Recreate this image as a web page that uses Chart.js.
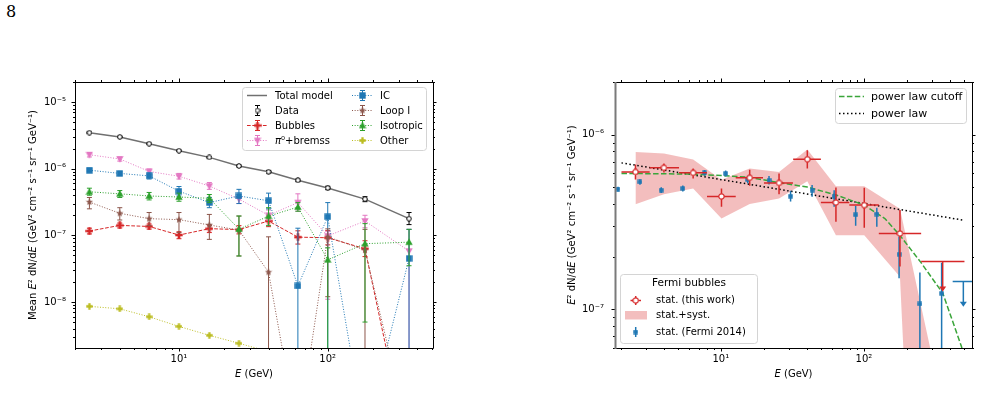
<!DOCTYPE html>
<html>
<head>
<meta charset="utf-8">
<script src="https://cdn.jsdelivr.net/npm/chart.js@4.4.1/dist/chart.umd.min.js"></script>
<style>
body { margin: 0; background: #fff; width: 981px; height: 405px; overflow: hidden; position: relative; }
#page { position: absolute; left: 6px; top: 2px; font-family: 'DejaVu Serif', 'Liberation Serif', serif; font-size: 16px; color: #000; }
#c1 { position: absolute; left: 0; top: 0; }
#c2 { position: absolute; left: 490px; top: 0; }
</style>
</head>
<body>
<div id="page">8</div>
<canvas id="c1" width="490" height="405"></canvas>
<canvas id="c2" width="491" height="405"></canvas>
<script>
// ---- left panel: template fit components (GeV, mean E^2 dN/dE) ----
const E_BINS = [2.5, 4.0, 6.3, 10, 16, 25.3, 40, 63, 100, 178, 352];
const TOTAL = [3.47e-6, 3.0e-6, 2.37e-6, 1.86e-6, 1.48e-6, 1.1e-6, 9.0e-7, 6.7e-7, 5.15e-7, 3.5e-7, 1.78e-7];
const DATA_LO = [3.38e-6, 2.93e-6, 2.31e-6, 1.81e-6, 1.44e-6, 1.06e-6, 8.6e-7, 6.4e-7, 4.85e-7, 3.2e-7, 1.45e-7];
const DATA_HI = [3.56e-6, 3.07e-6, 2.43e-6, 1.91e-6, 1.52e-6, 1.14e-6, 9.4e-7, 7.0e-7, 5.45e-7, 3.8e-7, 2.2e-7];
const BUB = [1.16e-7, 1.41e-7, 1.36e-7, 1.01e-7, 1.26e-7, 1.22e-7, 1.64e-7, 9.4e-8, 9.2e-8, 6.3e-8, 5e-11];
const BUB_LO = [1.05e-7, 1.29e-7, 1.24e-7, 8.9e-8, 1.1e-7, 1.05e-7, 1.35e-7, 7.4e-8, 7.2e-8, 4.8e-8, 1e-12];
const BUB_HI = [1.28e-7, 1.53e-7, 1.48e-7, 1.13e-7, 1.42e-7, 1.4e-7, 1.95e-7, 1.17e-7, 1.18e-7, 8.3e-8, 1e-12];
const PI0 = [1.62e-6, 1.4e-6, 9.1e-7, 7.7e-7, 5.5e-7, 3.5e-7, 2.0e-7, 3.1e-7, 9.8e-8, 1.64e-7, 5.8e-8];
const PI0_LO = [1.5e-6, 1.3e-6, 8.3e-7, 7.0e-7, 4.9e-7, 3.0e-7, 1.7e-7, 2.3e-7, 1.1e-8, 1.3e-7, 1e-12];
const PI0_HI = [1.75e-6, 1.5e-6, 9.9e-7, 8.5e-7, 6.2e-7, 4.1e-7, 2.4e-7, 4.2e-7, 1.15e-7, 2.0e-7, 1.23e-7];
const IC = [9.5e-7, 8.5e-7, 7.8e-7, 4.6e-7, 3.1e-7, 3.9e-7, 3.3e-7, 1.74e-8, 1.9e-7, 1e-10, 4.5e-8];
const IC_LO = [8.9e-7, 8.0e-7, 7.0e-7, 3.9e-7, 2.6e-7, 3.0e-7, 2.5e-7, 1e-12, 1e-12, 1e-12, 1e-12];
const IC_HI = [1.02e-6, 9.0e-7, 8.6e-7, 5.4e-7, 3.7e-7, 4.9e-7, 4.3e-7, 1.28e-7, 3.1e-7, 1e-12, 1.23e-7];
const LOOP = [3.16e-7, 2.14e-7, 1.78e-7, 1.72e-7, 1.43e-7, 1.2e-7, 2.8e-8, 1e-10, 9.5e-8, 6.0e-8, 1e-10];
const LOOP_LO = [2.5e-7, 1.7e-7, 1.4e-7, 1.1e-7, 8.7e-8, 4.9e-8, 1e-12, 1e-12, 1.2e-8, 1e-12, 1e-12];
const LOOP_HI = [3.7e-7, 2.6e-7, 2.2e-7, 2.2e-7, 2.06e-7, 1.95e-7, 9.5e-8, 1e-12, 1.25e-7, 1.23e-7, 1e-12];
const ISO = [4.5e-7, 4.2e-7, 3.9e-7, 3.76e-7, 3.6e-7, 1.24e-7, 1.94e-7, 2.66e-7, 4.3e-8, 7.5e-8, 7.9e-8];
const ISO_LO = [4.0e-7, 3.7e-7, 3.4e-7, 3.25e-7, 3.1e-7, 4.9e-8, 1.4e-7, 2.3e-7, 1e-12, 5e-9, 3.5e-8];
const ISO_HI = [5.1e-7, 4.7e-7, 4.4e-7, 4.3e-7, 4.1e-7, 1.95e-7, 2.6e-7, 3.1e-7, 6.5e-8, 1.5e-7, 1.23e-7];
const OTHER = [8.6e-9, 7.9e-9, 6.0e-9, 4.3e-9, 3.16e-9, 2.4e-9, 1.8e-9, 1.3e-9, 1.0e-9, 7e-10, 4e-10];
const X_TICKS_L = [10, 100];
const Y_TICKS_L = [1e-8, 1e-7, 1e-6, 1e-5];

// ---- right panel: Fermi bubbles spectrum ----
const E_THIS = [2.53, 4.0, 6.4, 10.1, 15.9, 25.5, 40.2, 63.7, 100.5, 178.5];
const E_THIS_LO = [2.02, 3.18, 5.1, 8.0, 12.7, 20.0, 32.0, 50.0, 79.0, 127];
const E_THIS_HI = [3.18, 5.1, 8.0, 12.7, 19.7, 31.9, 50.0, 79.0, 127, 251];
const F_THIS = [6.1e-7, 6.45e-7, 6.03e-7, 4.42e-7, 5.65e-7, 5.28e-7, 7.22e-7, 4.08e-7, 3.94e-7, 2.71e-7];
const F_THIS_LO = [5.52e-7, 6.05e-7, 5.6e-7, 3.86e-7, 5.08e-7, 4.55e-7, 6.38e-7, 3.16e-7, 2.92e-7, 1.75e-7];
const F_THIS_HI = [6.74e-7, 6.82e-7, 6.38e-7, 4.9e-7, 6.28e-7, 5.98e-7, 8.13e-7, 4.97e-7, 4.95e-7, 3.69e-7];
const E_BAND = [2.53, 4.0, 6.4, 10.1, 15.9, 25.5, 40.2, 63.7, 100.5, 178.5, 355];
const BAND_HI = [7.95e-7, 7.78e-7, 7.2e-7, 5.5e-7, 6.38e-7, 6.1e-7, 8.2e-7, 5.06e-7, 5.06e-7, 3.76e-7, 2.8e-8];
const BAND_LO = [3.98e-7, 4.55e-7, 4.91e-7, 3.3e-7, 4.0e-7, 4.3e-7, 5.4e-7, 2.65e-7, 2.65e-7, 1.53e-7, 1e-12];
const E_FERMI = [1.91, 2.72, 3.83, 5.42, 7.69, 10.8, 15.4, 21.7, 30.7, 43.4, 61.9, 87.5, 123, 176, 246, 349];
const F_FERMI = [4.87e-7, 5.35e-7, 4.8e-7, 4.91e-7, 6.03e-7, 5.98e-7, 5.52e-7, 5.47e-7, 4.43e-7, 4.8e-7, 4.43e-7, 3.47e-7, 3.5e-7, 2.06e-7, 1.07e-7, 1.23e-7];
const F_FERMI_LO = [4.72e-7, 5.15e-7, 4.62e-7, 4.72e-7, 5.8e-7, 5.75e-7, 5.25e-7, 5.17e-7, 4.13e-7, 4.4e-7, 3.86e-7, 3.0e-7, 2.96e-7, 1.5e-7, 1e-12, 1e-12];
const F_FERMI_HI = [5.02e-7, 5.55e-7, 4.98e-7, 5.1e-7, 6.26e-7, 6.22e-7, 5.8e-7, 5.78e-7, 4.76e-7, 5.13e-7, 4.8e-7, 3.9e-7, 3.8e-7, 2.6e-7, 1.62e-7, 1.84e-7];
// upper limits: [this work, Fermi 2014]
const UL_E = [355, 495];
const UL_E_LO = [251, 417];
const UL_E_HI = [504, 590];
const UL_F = [1.87e-7, 1.44e-7];
const UL_TIP = [1.26e-7, 1.03e-7];
const PL_E = [2.02, 496];
const PL_F = [6.88e-7, 3.23e-7];
const CUT_E = [2.02, 4.0, 6.4, 10.1, 15.9, 25.5, 40.2, 64, 100.5, 140, 178, 250, 356, 480, 540];
const CUT_F = [5.98e-7, 5.96e-7, 5.93e-7, 5.82e-7, 5.68e-7, 5.3e-7, 5.0e-7, 4.5e-7, 3.94e-7, 3.3e-7, 2.65e-7, 1.85e-7, 1.23e-7, 6.1e-8, 4.2e-8];
const X_TICKS_R = [10, 100];
const Y_TICKS_R = [1e-7, 1e-6];

const FONT = 'DejaVu Sans';
const SUP = {'-': '⁻', '0': '⁰', '1': '¹', '2': '²', '3': '³', '4': '⁴', '5': '⁵', '6': '⁶', '7': '⁷', '8': '⁸', '9': '⁹'};

function pow10Label(v, list) {
    const hit = list.find(t => Math.abs(v / t - 1) < 1e-6);
    if (!hit) return '';
    return '10' + String(Math.round(Math.log10(hit))).split('').map(c => SUP[c]).join('');
}

function pts(xs, ys) {
    return xs.map((x, i) => ({x: x, y: ys[i]}));
}

// text pieces [text, italic]
function richWidth(ctx, segs, size) {
    let w = 0;
    segs.forEach(s => { ctx.font = (s[1] ? 'italic ' : '') + size + 'px ' + FONT; w += ctx.measureText(s[0]).width; });
    return w;
}
function drawRich(ctx, segs, x, y, size) {
    segs.forEach(s => {
        ctx.font = (s[1] ? 'italic ' : '') + size + 'px ' + FONT;
        ctx.fillText(s[0], x, y);
        x += ctx.measureText(s[0]).width;
    });
}

// small marker images, used both in the plot and in the legends
function mk(shape, fill, stroke, size, lw) {
    const c = document.createElement('canvas');
    c.width = size; c.height = size;
    const g = c.getContext('2d');
    const m = size / 2, r = size / 2 - (lw ? lw / 2 + 0.2 : 0.3);
    g.beginPath();
    if (shape === 'o') g.arc(m, m, r, 0, Math.PI * 2);
    if (shape === 's') g.rect(m - r, m - r, 2 * r, 2 * r);
    if (shape === '^') { g.moveTo(m, m - r); g.lineTo(m + r, m + r * 0.75); g.lineTo(m - r, m + r * 0.75); g.closePath(); }
    if (shape === 'v') { g.moveTo(m, m + r); g.lineTo(m + r, m - r * 0.75); g.lineTo(m - r, m - r * 0.75); g.closePath(); }
    if (shape === 'P') {
        const t = r / 2.8;
        [[-t, -r], [t, -r], [t, -t], [r, -t], [r, t], [t, t], [t, r], [-t, r], [-t, t], [-r, t], [-r, -t], [-t, -t]]
            .forEach((p, i) => i ? g.lineTo(m + p[0], m + p[1]) : g.moveTo(m + p[0], m + p[1]));
        g.closePath();
    }
    if (shape === '*') {
        for (let i = 0; i < 10; i++) {
            const a = -Math.PI / 2 + i * Math.PI / 5, rr = i % 2 ? r * 0.45 : r;
            const px = m + rr * Math.cos(a), py = m + rr * Math.sin(a);
            i ? g.lineTo(px, py) : g.moveTo(px, py);
        }
        g.closePath();
    }
    g.fillStyle = fill; g.fill();
    if (stroke) { g.lineWidth = lw; g.strokeStyle = stroke; g.stroke(); }
    return c;
}

// error bars (x and y), drawn just before each dataset
const errorBars = {
    id: 'errorBars',
    beforeDatasetDraw(chart, args) {
        const ds = chart.data.datasets[args.index];
        if (!ds.errLo && !ds.xLo) return;
        const ctx = chart.ctx, a = chart.chartArea, x = chart.scales.x, y = chart.scales.y;
        ctx.save();
        ctx.beginPath(); ctx.rect(a.left, a.top, a.width, a.height); ctx.clip();
        ctx.strokeStyle = ds.errColor; ctx.lineWidth = ds.errWidth || 1; ctx.setLineDash([]);
        ds.data.forEach((p, i) => {
            const px = x.getPixelForValue(p.x), py = y.getPixelForValue(p.y);
            ctx.beginPath();
            if (ds.errLo) {
                const y0 = y.getPixelForValue(ds.errLo[i]), y1 = y.getPixelForValue(ds.errHi[i]);
                ctx.moveTo(px, y0); ctx.lineTo(px, y1);
                if (ds.cap) {
                    ctx.moveTo(px - ds.cap, y0); ctx.lineTo(px + ds.cap, y0);
                    ctx.moveTo(px - ds.cap, y1); ctx.lineTo(px + ds.cap, y1);
                }
            }
            if (ds.xLo) {
                ctx.moveTo(x.getPixelForValue(ds.xLo[i]), py); ctx.lineTo(x.getPixelForValue(ds.xHi[i]), py);
            }
            ctx.stroke();
        });
        ctx.restore();
    }
};

// matplotlib style frame: spines + major/minor ticks on all four sides, axis titles
function logValues(min, max) {
    const out = [];
    for (let n = Math.floor(Math.log10(min)); n <= Math.ceil(Math.log10(max)); n++) {
        for (let k = 1; k <= 9; k++) {
            const v = k * Math.pow(10, n);
            if (v >= min * 0.9999 && v <= max * 1.0001) out.push([v, k === 1]);
        }
    }
    return out;
}
const frame = {
    id: 'frame',
    afterDraw(chart, args, opts) {
        const ctx = chart.ctx, a = chart.chartArea, x = chart.scales.x, y = chart.scales.y;
        const L = Math.round(a.left), R = Math.round(a.right), T = Math.round(a.top), B = Math.round(a.bottom);
        ctx.save();
        ctx.strokeStyle = '#000'; ctx.lineWidth = 1;
        ctx.beginPath();
        logValues(x.min, x.max).forEach(([v, major]) => {
            const px = Math.round(x.getPixelForValue(v)) + 0.5, len = major ? 3.5 : 2;
            ctx.moveTo(px, B); ctx.lineTo(px, B + len);
            ctx.moveTo(px, T); ctx.lineTo(px, T - len);
        });
        logValues(y.min, y.max).forEach(([v, major]) => {
            const py = Math.round(y.getPixelForValue(v)) + 0.5, len = major ? 3.5 : 2;
            ctx.moveTo(L, py); ctx.lineTo(L - len, py);
            ctx.moveTo(R, py); ctx.lineTo(R + len, py);
        });
        ctx.stroke();
        ctx.beginPath();
        ctx.moveTo(L, T + 0.5); ctx.lineTo(R + 0.5, T + 0.5);
        ctx.moveTo(R + 0.5, T); ctx.lineTo(R + 0.5, B + 0.5);
        ctx.moveTo(L, B + 0.5); ctx.lineTo(R + 0.5, B + 0.5);
        ctx.stroke();
        ctx.beginPath();
        ctx.strokeStyle = opts.leftColor || '#000'; ctx.lineWidth = opts.leftWidth || 1;
        ctx.moveTo(L + 0.5, T); ctx.lineTo(L + 0.5, B + 1);
        ctx.stroke();
        // axis titles with italic E
        ctx.fillStyle = '#000'; ctx.textBaseline = 'middle';
        const xt = opts.xTitle, yt = opts.yTitle;
        drawRich(ctx, xt, (a.left + a.right) / 2 - richWidth(ctx, xt, 10) / 2, opts.xTitleY, 10);
        ctx.translate(opts.yTitleX, (a.top + a.bottom) / 2);
        ctx.rotate(-Math.PI / 2);
        drawRich(ctx, yt, -richWidth(ctx, yt, 10) / 2, 0, 10);
        ctx.restore();
    }
};

function legendBox(ctx, x0, y0, x1, y1) {
    ctx.beginPath();
    if (ctx.roundRect) ctx.roundRect(x0 + 0.5, y0 + 0.5, x1 - x0, y1 - y0, 3); else ctx.rect(x0 + 0.5, y0 + 0.5, x1 - x0, y1 - y0);
    ctx.fillStyle = 'rgba(255,255,255,0.8)'; ctx.fill();
    ctx.strokeStyle = '#d4d4d4'; ctx.lineWidth = 1; ctx.stroke();
}

const legendLeft = {
    id: 'legendLeft',
    afterDraw(chart) {
        const ctx = chart.ctx;
        ctx.save();
        legendBox(ctx, 242, 87, 426, 150);
        const cols = [[247, 267, 275], [352, 372, 380]];
        const rows = [95.5, 110.5, 125.5, 140.5];
        chart.data.datasets.forEach((ds, i) => {
            const c = cols[Math.floor(i / 4)], yy = rows[i % 4], xc = Math.round((c[0] + c[1]) / 2) + 0.5;
            if (ds.showLine) {
                ctx.beginPath(); ctx.strokeStyle = ds.borderColor; ctx.lineWidth = ds.borderWidth;
                ctx.setLineDash(ds.borderDash || []);
                ctx.moveTo(c[0], yy); ctx.lineTo(c[1], yy); ctx.stroke();
                ctx.setLineDash([]);
            }
            if (ds.errLo) {
                ctx.beginPath(); ctx.strokeStyle = ds.errColor; ctx.lineWidth = 1;
                ctx.moveTo(xc, yy - 5); ctx.lineTo(xc, yy + 5);
                ctx.moveTo(xc - 2.5, yy - 5); ctx.lineTo(xc + 2.5, yy - 5);
                ctx.moveTo(xc - 2.5, yy + 5); ctx.lineTo(xc + 2.5, yy + 5);
                ctx.stroke();
            }
            if (ds.pointStyle instanceof HTMLCanvasElement && ds.pointRadius > 0) {
                const im = ds.pointStyle;
                ctx.drawImage(im, xc - im.width / 2, yy - im.height / 2);
            }
            ctx.fillStyle = '#000'; ctx.textBaseline = 'middle';
            const segs = ds.label === 'π⁰+bremss' ? [['π', true], ['⁰+bremss', false]] : [[ds.label, false]];
            drawRich(ctx, segs, c[2], yy + 0.5, 10);
        });
        ctx.restore();
    }
};

const upperLimits = {
    id: 'upperLimits',
    afterDatasetsDraw(chart) {
        const ctx = chart.ctx, a = chart.chartArea, x = chart.scales.x, y = chart.scales.y;
        const colors = ['#d62728', '#1f77b4'];
        ctx.save();
        ctx.beginPath(); ctx.rect(a.left, a.top, a.width, a.height); ctx.clip();
        UL_E.forEach((e, i) => {
            const xc = x.getPixelForValue(e), yt = y.getPixelForValue(UL_F[i]), yb = y.getPixelForValue(UL_TIP[i]);
            ctx.strokeStyle = colors[i]; ctx.fillStyle = colors[i]; ctx.lineWidth = 1.5;
            ctx.beginPath();
            ctx.moveTo(x.getPixelForValue(UL_E_LO[i]), yt); ctx.lineTo(x.getPixelForValue(UL_E_HI[i]), yt);
            ctx.moveTo(xc, yt); ctx.lineTo(xc, yb - 4);
            ctx.stroke();
            ctx.beginPath();
            ctx.moveTo(xc - 3.5, yb - 5); ctx.lineTo(xc + 3.5, yb - 5); ctx.lineTo(xc, yb); ctx.closePath();
            ctx.fill();
        });
        ctx.restore();
    }
};

const legendRight = {
    id: 'legendRight',
    afterDraw(chart) {
        const ctx = chart.ctx;
        ctx.save();
        // top right legend
        legendBox(ctx, 345, 88, 476, 123);
        ctx.lineWidth = 1.5;
        ctx.beginPath(); ctx.strokeStyle = '#3aa53a'; ctx.setLineDash([5.5, 2.4]);
        ctx.moveTo(349, 96.5); ctx.lineTo(374, 96.5); ctx.stroke();
        ctx.beginPath(); ctx.strokeStyle = '#000'; ctx.setLineDash([1.5, 2.5]);
        ctx.moveTo(349, 113.5); ctx.lineTo(374, 113.5); ctx.stroke();
        ctx.setLineDash([]);
        ctx.fillStyle = '#000'; ctx.font = '11px ' + FONT; ctx.textBaseline = 'middle';
        ctx.fillText('power law cutoff', 381, 97);
        ctx.fillText('power law', 381, 114);
        // bottom left legend
        legendBox(ctx, 130, 274, 267, 343);
        ctx.fillStyle = '#000'; ctx.font = '10.5px ' + FONT; ctx.textAlign = 'center';
        ctx.fillText('Fermi bubbles', 199, 283);
        ctx.textAlign = 'left'; ctx.font = '10px ' + FONT;
        ctx.fillText('stat. (this work)', 166, 300.5);
        ctx.fillText('stat.+syst.', 166, 315.5);
        ctx.fillText('stat. (Fermi 2014)', 166, 332);
        ctx.strokeStyle = '#d62728'; ctx.lineWidth = 1.5;
        ctx.beginPath(); ctx.moveTo(140.5, 300.5); ctx.lineTo(151, 300.5); ctx.moveTo(145.7, 296); ctx.lineTo(145.7, 305); ctx.stroke();
        ctx.drawImage(RED_O, 145.7 - RED_O.width / 2, 300.5 - RED_O.height / 2);
        ctx.fillStyle = 'rgba(214,39,40,0.3)';
        ctx.fillRect(135, 311, 22, 8.5);
        ctx.strokeStyle = '#1f77b4';
        ctx.beginPath(); ctx.moveTo(145.7, 327); ctx.lineTo(145.7, 337); ctx.stroke();
        ctx.drawImage(BLUE_S, 145.7 - BLUE_S.width / 2, 332 - BLUE_S.height / 2);
        ctx.restore();
    }
};

const RED_O = mk('o', '#fff', '#d62728', 7, 1.2);
const BLUE_S = mk('s', '#1f77b4', null, 5, 0);

function logAxis(min, max, list, padding, afterFit) {
    return {
        type: 'logarithmic', min: min, max: max,
        grid: {display: false, drawTicks: false}, border: {display: false},
        ticks: {autoSkip: false, maxRotation: 0, padding: padding, color: '#000', font: {family: FONT, size: 10},
            callback: v => pow10Label(v, list)},
        afterFit: afterFit
    };
}

// series helper for the left panel
function series(label, ys, lo, hi, color, dash, marker, order, extra) {
    return Object.assign({
        label: label, data: pts(E_BINS, ys), showLine: true, borderColor: color, borderWidth: 1,
        borderDash: dash, pointStyle: marker, pointRadius: marker ? 3 : 0, tension: 0,
        errLo: lo, errHi: hi, errColor: color, cap: 2.5, order: order
    }, extra || {});
}

const X_TITLE = [['E', true], [' (GeV)', false]];

new Chart(document.getElementById('c1'), {
    type: 'scatter',
    data: {
        datasets: [
            series('Total model', TOTAL, null, null, '#707070', [], null, 8, {borderWidth: 1.5}),
            series('Data', TOTAL, DATA_LO, DATA_HI, '#000', [], mk('o', '#fff', '#000', 6, 1), 7, {showLine: false}),
            series('Bubbles', BUB, BUB_LO, BUB_HI, '#d62728', [3.7, 1.6], mk('P', '#d62728', null, 8, 0), 6),
            series('π⁰+bremss', PI0, PI0_LO, PI0_HI, '#e377c2', [1, 1.65], mk('v', '#e377c2', null, 8, 0), 5),
            series('IC', IC, IC_LO, IC_HI, '#1f77b4', [1, 1.65], mk('s', '#1f77b4', null, 7, 0), 4),
            series('Loop I', LOOP, LOOP_LO, LOOP_HI, '#8c564b', [1, 1.65], mk('*', '#8c564b', null, 8, 0), 3),
            series('Isotropic', ISO, ISO_LO, ISO_HI, '#2ca02c', [1, 1.65], mk('^', '#2ca02c', null, 8, 0), 2),
            series('Other', OTHER, null, null, '#bcbd22', [1, 1.65], mk('P', '#bcbd22', null, 7, 0), 1)
        ]
    },
    options: {
        responsive: false, animation: false, events: [],
        layout: {padding: {left: 23, top: 82, right: 57, bottom: 0}},
        plugins: {
            legend: {display: false}, tooltip: {enabled: false},
            frame: {xTitle: X_TITLE, xTitleY: 374, yTitleX: 33,
                yTitle: [['Mean ', false], ['E', true], ['² dN/d', false], ['E', true], [' (GeV² cm⁻² s⁻¹ sr⁻¹ GeV⁻¹)', false]]}
        },
        scales: {
            x: logAxis(2.0, 510, X_TICKS_L, 5, s => { s.height = 57; }),
            y: logAxis(2.04e-9, 2.0e-5, Y_TICKS_L, 9, s => { s.width = 52; })
        }
    },
    plugins: [errorBars, frame, legendLeft]
});

new Chart(document.getElementById('c2'), {
    type: 'scatter',
    data: {
        datasets: [
            {label: 'stat. (this work)', data: pts(E_THIS, F_THIS), pointStyle: RED_O, pointRadius: 3,
                errLo: F_THIS_LO, errHi: F_THIS_HI, xLo: E_THIS_LO, xHi: E_THIS_HI, errColor: '#d62728', errWidth: 1.5, order: 1},
            {label: 'stat. (Fermi 2014)', data: pts(E_FERMI, F_FERMI), pointStyle: BLUE_S, pointRadius: 3,
                errLo: F_FERMI_LO, errHi: F_FERMI_HI, errColor: '#1f77b4', errWidth: 1.5, order: 2},
            {label: 'power law cutoff', data: pts(CUT_E, CUT_F), showLine: true, pointRadius: 0, borderColor: '#3aa53a',
                borderWidth: 1.5, borderDash: [5.5, 2.4], tension: 0, order: 3},
            {label: 'power law', data: pts(PL_E, PL_F), showLine: true, pointRadius: 0, borderColor: '#000',
                borderWidth: 1.5, borderDash: [1.5, 2.5], order: 4},
            {label: 'stat.+syst.', data: pts(E_BAND, BAND_HI), showLine: true, pointRadius: 0, borderWidth: 0,
                borderColor: 'rgba(0,0,0,0)', fill: '+1', backgroundColor: 'rgba(214,39,40,0.3)', order: 5},
            {label: 'band low', data: pts(E_BAND, BAND_LO), showLine: true, pointRadius: 0, borderWidth: 0,
                borderColor: 'rgba(0,0,0,0)', order: 6}
        ]
    },
    options: {
        responsive: false, animation: false, events: [],
        layout: {padding: {left: 72, top: 82, right: 9, bottom: 0}},
        plugins: {
            legend: {display: false}, tooltip: {enabled: false},
            frame: {leftColor: '#7a7a7a', leftWidth: 2, xTitle: X_TITLE, xTitleY: 374, yTitleX: 82,
                yTitle: [['E', true], ['² dN/d', false], ['E', true], [' (GeV² cm⁻² s⁻¹ sr⁻¹ GeV⁻¹)', false]]}
        },
        scales: {
            x: logAxis(1.82, 569, X_TICKS_R, 5, s => { s.height = 57; }),
            y: logAxis(5.98e-8, 2.0e-6, Y_TICKS_R, 11, s => { s.width = 53; })
        }
    },
    plugins: [errorBars, frame, upperLimits, legendRight]
});
</script>
</body>
</html>
